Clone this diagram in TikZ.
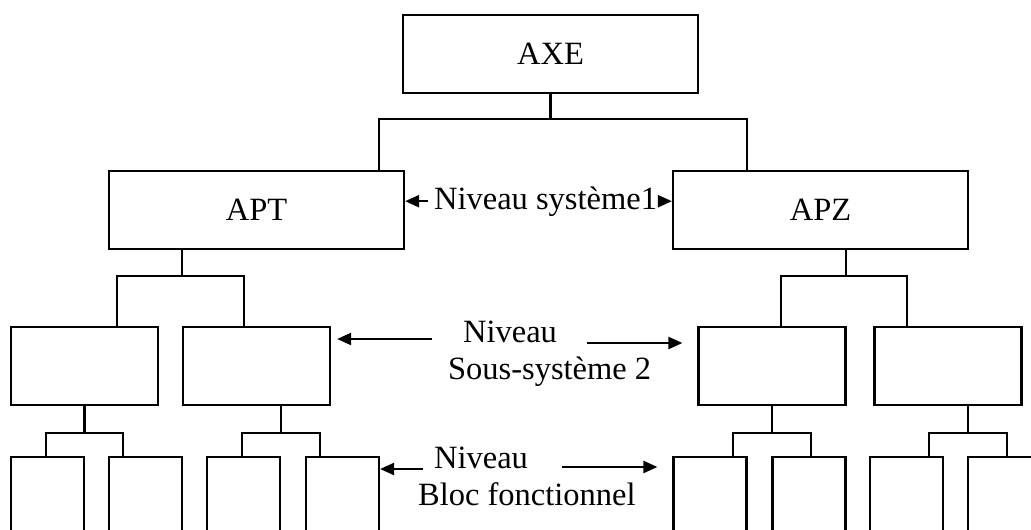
\documentclass[tikz,border=0pt]{standalone}
\usepackage{fontspec}
\setmainfont{Liberation Serif}
\usepackage{tikz}
\usetikzlibrary{arrows.meta,calc}

\begin{document}
\begin{tikzpicture}[x=1pt, y=-1pt, line width=2.2pt,
    font=\fontsize{32.5}{37}\selectfont,
    big/.style={draw, rectangle, minimum width=295pt, minimum height=78pt, inner sep=0pt},
    sub/.style={draw, rectangle, minimum width=147pt, minimum height=78pt, inner sep=0pt},
    leaf/.style={draw, rectangle, minimum width=73pt, minimum height=100pt, inner sep=0pt},
    lbl/.style={inner sep=0pt, anchor=base west},
    arr/.style={-{Triangle[length=14pt,width=12pt]}}]
      \useasboundingbox (0,0) rectangle (1031,530);
      \clip (0,0) rectangle (1031,530);

      \node[big] (AXE) at (550.5,54) {AXE};
      \node[big] (APT) at (256.5,210) {APT};
      \node[big] (APZ) at (820.5,210) {APZ};

      \node[sub] (SA) at (84.5,366) {};
      \node[sub] (SB) at (256.5,366) {};
      \node[sub] (SC) at (772,366) {};
      \node[sub] (SD) at (948,366) {};

      \node[leaf] (BA) at (47.5,507) {};
      \node[leaf] (BB) at (145.5,507) {};
      \node[leaf] (BC) at (243.5,507) {};
      \node[leaf] (BD) at (342.5,507) {};
      \node[leaf] (BE) at (710,507) {};
      \node[leaf] (BF) at (809,507) {};
      \node[leaf] (BG) at (906.5,507) {};
      \node[leaf] (BH) at (1004.5,507) {};

      % tree lines
      \draw (AXE.south) -- ++(0,25);
      \draw ($(APT.north)+(122.5,0)$) |- ($(AXE.south)+(0,25)$) -| ($(APZ.north)+(-73.5,0)$);

      \draw ($(APT.south)+(-74.5,0)$) -- ++(0,26);
      \draw ($(SA.north)+(32.5,0)$) |- ($(APT.south)+(-74.5,26)$) -| ($(SB.north)+(-12.5,0)$);
      \draw ($(APZ.south)+(25.5,0)$) -- ++(0,26);
      \draw ($(SC.north)+(8.7,0)$) |- ($(APZ.south)+(25.5,26)$) -| ($(SD.north)+(-41,0)$);

      \draw (SA.south) -- ++(0,27);
      \draw ($(BA.north)+(-1.5,0)$) |- ($(SA.south)+(0,27)$) -| ($(BB.north)+(-22.5,0)$);
      \draw ($(SB.south)+(24.5,0)$) -- ++(0,27);
      \draw ($(BC.north)+(-1.5,0)$) |- ($(SB.south)+(24.5,27)$) -| ($(BD.north)+(-22.5,0)$);
      \draw (SC.south) -- ++(0,27);
      \draw ($(BE.north)+(23,0)$) |- ($(SC.south)+(0,27)$) -| ($(BF.north)+(2,0)$);
      \draw ($(SD.south)+(20,0)$) -- ++(0,27);
      \draw ($(BG.north)+(22.5,0)$) |- ($(SD.south)+(20,27)$) -| ($(BH.north)+(2.5,0)$);

      % level labels
      \node[lbl, inner sep=5pt] (N1) at (428,209) {Niveau système1};
      \draw[arr] (N1.west) -- (N1.west -| APT.east);
      \draw[arr] (N1.east) -- (N1.east -| APZ.west);

      \node[lbl] (N2) at (462,342) {Niveau};
      \node[lbl] (S2) at (447,379) {Sous-système 2};
      \coordinate (n2l) at (432,339);
      \coordinate (n2r) at (587,343);
      \draw[arr, shorten >=6pt] (n2l) -- (n2l -| SB.east);
      \draw[arr, shorten >=15pt] (n2r) -- (n2r -| SC.west);

      \node[lbl] (N3) at (433,468) {Niveau};
      \node[lbl] (B3) at (417,505) {Bloc fonctionnel};
      \coordinate (n3l) at (423,469);
      \coordinate (n3r) at (562,467);
      \draw[arr] (n3l) -- (n3l -| BD.east);
      \draw[arr, shorten >=15pt] (n3r) -- (n3r -| BE.west);
\end{tikzpicture}
\end{document}
